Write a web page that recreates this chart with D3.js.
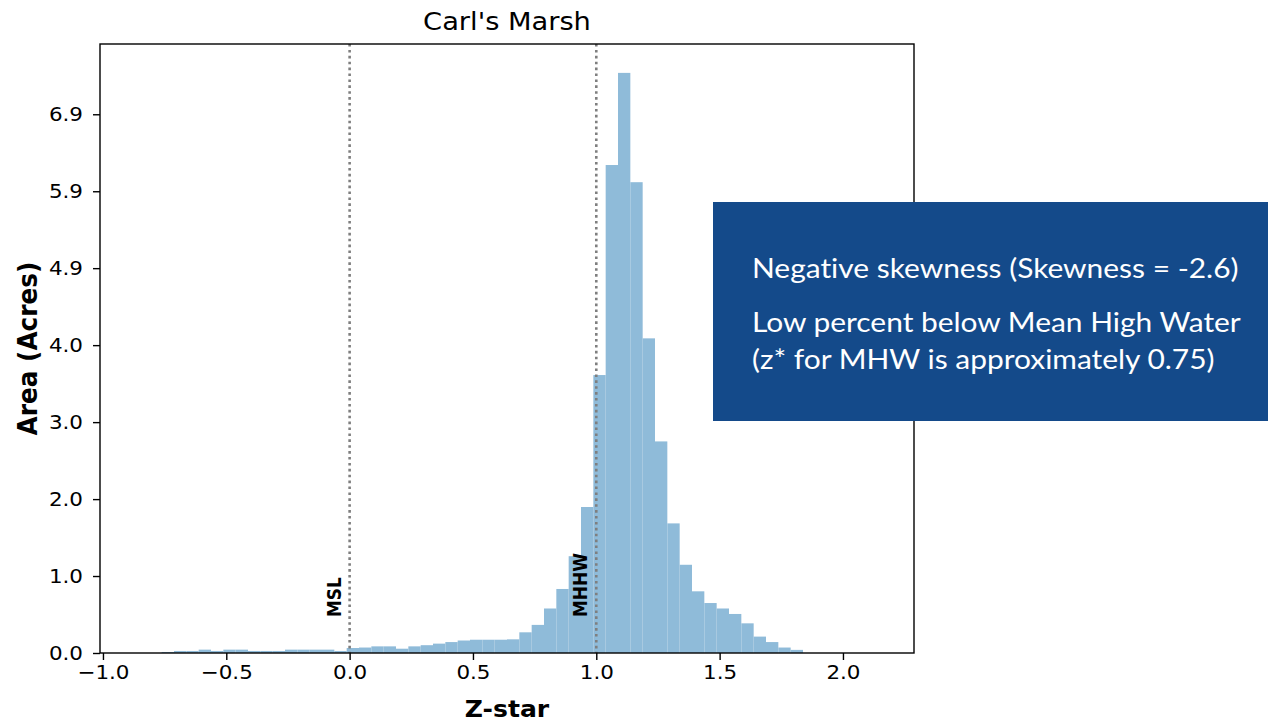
<!DOCTYPE html>
<html><head><meta charset="utf-8">
<script src="https://cdn.jsdelivr.net/npm/d3@7"></script>
<style>
body{margin:0;background:#fff;}
svg{display:block;}
text{font-variant-ligatures:none;}
</style></head>
<body>
<svg id="chart" width="1268" height="723"></svg>
<script>
// ---- data ----
const title = "Carl's Marsh";
const xLabel = "Z-star";
const yLabel = "Area (Acres)";
const binStart = -0.862;
const binWidth = 0.05;
const areaValues = [
  0, 0, 0.013, 0.026, 0.026, 0.043, 0.026, 0.043, 0.043, 0.026,
  0.026, 0.026, 0.043, 0.043, 0.043, 0.043, 0.026, 0.064, 0.07, 0.085,
  0.085, 0.055, 0.085, 0.10, 0.12, 0.14, 0.16, 0.17, 0.17, 0.17,
  0.175, 0.265, 0.36, 0.57, 0.82, 1.24, 1.87, 3.56, 6.25, 7.43,
  6.03, 4.03, 2.71, 1.66, 1.13, 0.79, 0.64, 0.57, 0.50, 0.38,
  0.21, 0.14, 0.07, 0.04, 0, 0, 0, 0, 0, 0
];
const xTickValues = [-1.0, -0.5, 0.0, 0.5, 1.0, 1.5, 2.0];
const yTickValues = [0, 0.986, 1.971, 2.957, 3.943, 4.929, 5.914, 6.9];
const yTickLabels = ["0.0", "1.0", "2.0", "3.0", "4.0", "4.9", "5.9", "6.9"];
const refLines = [{x: 0.0, label: "MSL"}, {x: 1.0, label: "MHHW"}];
const noteLines = [
  "Negative skewness (Skewness = -2.6)",
  "Low percent below Mean High Water",
  "(z* for MHW is approximately 0.75)"
];

// ---- layout ----
const SX = 1.1; // horizontal glyph stretch seen in the picture
const svg = d3.select("#chart");
const L = 100, R = 914, T = 44, B = 653;
const x = d3.scaleLinear().domain([-1.012, 2.288]).range([L, R]);
const y = d3.scaleLinear().domain([0, 7.80]).range([B, T]);
const font = "DejaVu Sans, sans-serif";

// bars
const bins = areaValues.map((v, i) => ({x0: binStart + i * binWidth, x1: binStart + (i + 1) * binWidth, v}));
svg.append("g").selectAll("rect").data(bins.filter(d => d.v > 0)).join("rect")
  .attr("x", d => x(d.x0))
  .attr("width", d => x(d.x1) - x(d.x0))
  .attr("y", d => y(d.v))
  .attr("height", d => y(0) - y(d.v))
  .attr("fill", "#8fbbd9");

// reference lines
const rl = svg.append("g");
refLines.forEach(r => {
  rl.append("line").attr("x1", x(r.x)).attr("x2", x(r.x)).attr("y1", T).attr("y2", B)
    .attr("stroke", "#7f7f7f").attr("stroke-width", 2.6).attr("stroke-dasharray", "2.6,3.3");
  rl.append("text").attr("transform", `translate(${x(r.x) - 9},${y(0.46)}) scale(${SX},1) rotate(-90)`)
    .attr("font-family", font).attr("font-weight", "bold").attr("font-size", 17)
    .attr("fill", "#000").text(r.label);
});

// axes
const xAxis = d3.axisBottom(x).tickValues(xTickValues).tickSize(7).tickPadding(5)
  .tickFormat(d => d3.format(".1f")(d).replace("-", "\u2212"));
const gx = svg.append("g").attr("transform", `translate(0,${B})`).call(xAxis);
const yAxis = d3.axisLeft(y).tickValues(yTickValues).tickSize(7).tickPadding(10)
  .tickFormat((d, i) => yTickLabels[i]);
const gy = svg.append("g").attr("transform", `translate(${L},0)`).call(yAxis);
[gx, gy].forEach(g => {
  g.select(".domain").remove();
  g.selectAll("line").attr("stroke", "#000").attr("stroke-width", 1.4);
  g.selectAll("text").attr("font-family", font).attr("font-size", 19.5).attr("fill", "#000");
});
gx.selectAll("text").attr("transform", `scale(${SX},1)`);
gy.selectAll("text").attr("x", -17 / SX).attr("transform", `scale(${SX},1)`);
// spines
svg.append("rect").attr("x", L).attr("y", T).attr("width", R - L).attr("height", B - T)
  .attr("fill", "none").attr("stroke", "#000").attr("stroke-width", 1.4);

// titles
svg.append("text").attr("transform", `translate(${(L + R) / 2},30) scale(${SX},1)`).attr("text-anchor", "middle")
  .attr("font-family", font).attr("font-size", 24.8).text(title);
svg.append("text").attr("transform", `translate(${(L + R) / 2},716.5) scale(${SX},1)`).attr("text-anchor", "middle")
  .attr("font-family", font).attr("font-weight", "bold").attr("font-size", 22.8).text(xLabel);
svg.append("text").attr("transform", `translate(37,${(T + B) / 2}) scale(${SX},1) rotate(-90)`).attr("text-anchor", "middle")
  .attr("font-family", font).attr("font-weight", "bold").attr("font-size", 24.8).text(yLabel);

// note box
const box = svg.append("g");
box.append("rect").attr("x", 713).attr("y", 202).attr("width", 555).attr("height", 219).attr("fill", "#144a8a");
const noteY = [278, 332, 369];
noteLines.forEach((t, i) => {
  box.append("text").attr("transform", `translate(752,${noteY[i]}) scale(${SX},1)`).attr("fill", "#fff")
    .attr("font-family", "Lato, sans-serif").attr("font-size", 27.2).text(t);
});
</script>
</body></html>
